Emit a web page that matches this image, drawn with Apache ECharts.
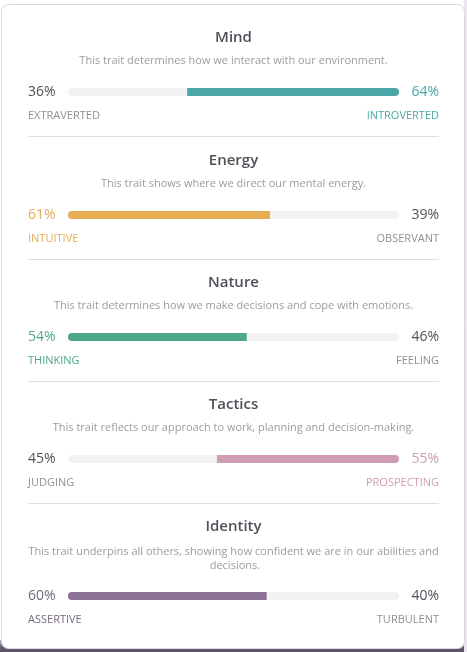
<!DOCTYPE html>
<html>
<head>
<meta charset="utf-8">
<script src="https://cdn.jsdelivr.net/npm/echarts@6/dist/echarts.min.js"></script>
<style>
  html, body { margin: 0; padding: 0; background: #ffffff; }
  #chart { width: 467px; height: 652px; }
</style>
</head>
<body>
<div id="chart"></div>
<script>
// ---- data ----
const traits = ['Mind', 'Energy', 'Nature', 'Tactics', 'Identity'];
const descriptions = [
  'This trait determines how we interact with our environment.',
  'This trait shows where we direct our mental energy.',
  'This trait determines how we make decisions and cope with emotions.',
  'This trait reflects our approach to work, planning and decision-making.',
  'This trait underpins all others, showing how confident we are in our abilities and decisions.'
];
const leftLabels = ['EXTRAVERTED', 'INTUITIVE', 'THINKING', 'JUDGING', 'ASSERTIVE'];
const rightLabels = ['INTROVERTED', 'OBSERVANT', 'FEELING', 'PROSPECTING', 'TURBULENT'];
const leftValues = [36, 61, 54, 45, 60];
const rightValues = [64, 39, 46, 55, 40];

// ---- styles / layout ----
const traitColors = ['#4aa6a7', '#e6ad55', '#4ea78b', '#d09cb1', '#8b7295'];
const traitTextColors = ['#4aa6a7', '#e6ad55', '#4ea78b', '#d09cb1', '#756a7c'];
const sectionTop = [0, 123, 245, 367, 489];   // offsets of each section
const descExtra = [0, 0, 0, 0, 15];
const FONT = '"Open Sans", "Noto Sans", sans-serif';
const darkText = '#4d5258';
const grayText = '#8d9196';
const BAR_L = 68, BAR_W = 331, BAR_H = 8;

const grids = [], xAxes = [], yAxes = [], series = [], graphics = [];

// card + surroundings
graphics.push({
  type: 'rect', z: -30, silent: true,
  shape: { x: 0, y: 640, width: 467, height: 12 },
  style: { fill: new echarts.graphic.LinearGradient(0, 0, 0, 1, [
    { offset: 0, color: '#b9afc0' }, { offset: 0.6, color: '#6a5f72' }, { offset: 1, color: '#5a5062' }]) }
});
graphics.push({
  type: 'rect', z: -29, silent: true,
  shape: { x: 464, y: 0, width: 3, height: 652 },
  style: { fill: '#ece6f0' }
});
graphics.push({
  type: 'rect', z: -20, silent: true,
  shape: { x: 1.5, y: 4.5, width: 463, height: 644, r: 7 },
  style: { fill: '#ffffff', stroke: '#d9d9dc', lineWidth: 1 }
});

traits.forEach((name, i) => {
  const top = sectionTop[i];
  const barY = top + 92 + descExtra[i];
  const leftWins = leftValues[i] >= rightValues[i];
  const color = traitColors[i];
  const tcolor = traitTextColors[i];

  grids.push({ left: BAR_L, top: barY - BAR_H / 2, width: BAR_W, height: BAR_H });
  xAxes.push({ gridIndex: i, type: 'value', min: 0, max: 100, show: false });
  yAxes.push({ gridIndex: i, type: 'category', data: [name], show: false });

  series.push({
    type: 'bar', name: name + '-left', xAxisIndex: i, yAxisIndex: i,
    stack: 's' + i, barWidth: BAR_H, silent: true,
    showBackground: true,
    backgroundStyle: { color: '#f2f2f3', borderRadius: BAR_H / 2 },
    itemStyle: leftWins
      ? { color: color, borderRadius: [BAR_H / 2, 0, 0, BAR_H / 2] }
      : { color: 'rgba(0,0,0,0)' },
    data: [leftValues[i]]
  });
  series.push({
    type: 'bar', name: name + '-right', xAxisIndex: i, yAxisIndex: i,
    stack: 's' + i, barWidth: BAR_H, silent: true,
    itemStyle: leftWins
      ? { color: 'rgba(0,0,0,0)' }
      : { color: color, borderRadius: [0, BAR_H / 2, BAR_H / 2, 0] },
    data: [rightValues[i]]
  });

  // title
  graphics.push({
    type: 'text', x: 233.5, y: top + 38,
    style: { text: name, font: '600 15px ' + FONT, fill: darkText, align: 'center', verticalAlign: 'middle' }
  });
  // description
  graphics.push({
    type: 'text', x: 233.5, y: top + 54 + (descExtra[i] ? 2 : 0),
    style: {
      text: descriptions[i], font: '11px ' + FONT, fill: '#999ca1',
      align: 'center', verticalAlign: 'top', width: 412, overflow: 'break', lineHeight: 14
    }
  });
  // percentages
  graphics.push({
    type: 'text', x: 28, y: barY,
    style: { text: leftValues[i] + '%', font: '14px ' + FONT,
      fill: leftWins ? tcolor : darkText, align: 'left', verticalAlign: 'middle' }
  });
  graphics.push({
    type: 'text', x: 439, y: barY,
    style: { text: rightValues[i] + '%', font: '14px ' + FONT,
      fill: leftWins ? darkText : tcolor, align: 'right', verticalAlign: 'middle' }
  });
  // pole labels
  graphics.push({
    type: 'text', x: 28, y: barY + 24,
    style: { text: leftLabels[i], font: '11px ' + FONT,
      fill: leftWins ? tcolor : grayText, align: 'left', verticalAlign: 'middle' }
  });
  graphics.push({
    type: 'text', x: 439, y: barY + 24,
    style: { text: rightLabels[i], font: '11px ' + FONT,
      fill: leftWins ? grayText : tcolor, align: 'right', verticalAlign: 'middle' }
  });
  // divider
  if (i < traits.length - 1) {
    graphics.push({
      type: 'line', silent: true,
      shape: { x1: 28, y1: top + 136.5, x2: 439, y2: top + 136.5 },
      style: { stroke: '#dedee2', lineWidth: 1 }
    });
  }
});

const chart = echarts.init(document.getElementById('chart'), null, { renderer: 'canvas' });
chart.setOption({
  animation: false,
  grid: grids,
  xAxis: xAxes,
  yAxis: yAxes,
  series: series,
  graphic: { elements: graphics }
});
</script>
</body>
</html>
